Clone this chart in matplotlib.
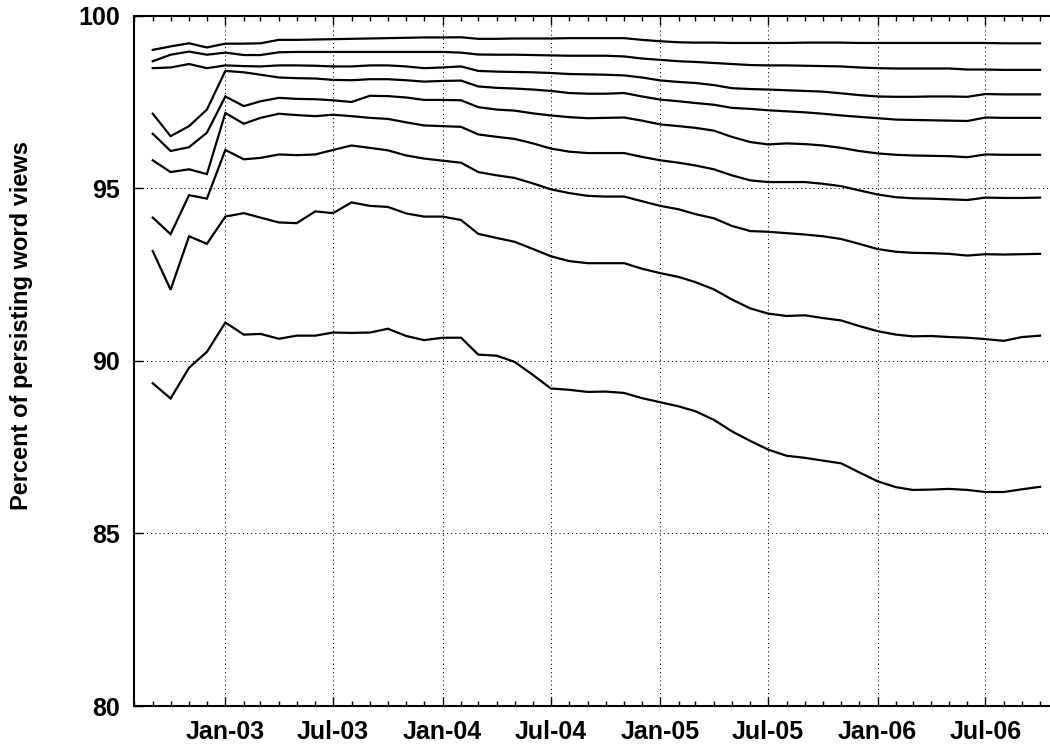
import matplotlib
matplotlib.use("Agg")
import matplotlib.pyplot as plt
import matplotlib.dates as mdates
import pandas as pd
import numpy as np

months = pd.date_range("2002-09-01", periods=50, freq="MS")

line_a = [99.01, 99.11, 99.20, 99.08, 99.19, 99.19, 99.20, 99.30, 99.30, 99.31,
          99.32, 99.33, 99.34, 99.35, 99.36, 99.37, 99.37, 99.375, 99.33, 99.33,
          99.34, 99.34, 99.34, 99.35, 99.35, 99.35, 99.35, 99.30, 99.26, 99.23,
          99.22, 99.22, 99.21, 99.21, 99.21, 99.21, 99.22, 99.22, 99.22, 99.21,
          99.21, 99.21, 99.21, 99.21, 99.21, 99.21, 99.21, 99.20, 99.20, 99.20]
line_b = [98.68, 98.87, 98.96, 98.87, 98.93, 98.86, 98.86, 98.94, 98.95, 98.95,
          98.95, 98.95, 98.95, 98.95, 98.95, 98.95, 98.95, 98.93, 98.875, 98.87,
          98.87, 98.86, 98.85, 98.84, 98.84, 98.84, 98.82, 98.76, 98.72, 98.68,
          98.66, 98.63, 98.60, 98.57, 98.56, 98.56, 98.55, 98.54, 98.53, 98.50,
          98.48, 98.47, 98.47, 98.47, 98.47, 98.44, 98.44, 98.43, 98.43, 98.43]
line_c = [98.48, 98.50, 98.60, 98.48, 98.56, 98.54, 98.53, 98.56, 98.56, 98.55,
          98.53, 98.53, 98.56, 98.56, 98.53, 98.48, 98.50, 98.53, 98.40, 98.38,
          98.37, 98.36, 98.34, 98.31, 98.30, 98.29, 98.27, 98.21, 98.125, 98.08,
          98.05, 97.99, 97.90, 97.875, 97.86, 97.84, 97.82, 97.80, 97.75, 97.70,
          97.66, 97.65, 97.65, 97.66, 97.66, 97.65, 97.73, 97.72, 97.72, 97.72]
line_d = [97.16, 96.51, 96.80, 97.28, 98.40, 98.36, 98.29, 98.21, 98.19, 98.18,
          98.14, 98.13, 98.16, 98.16, 98.13, 98.09, 98.11, 98.12, 97.95, 97.91,
          97.89, 97.86, 97.82, 97.76, 97.74, 97.74, 97.76, 97.66, 97.57, 97.52,
          97.47, 97.42, 97.33, 97.30, 97.26, 97.23, 97.20, 97.16, 97.11, 97.07,
          97.03, 96.99, 96.98, 96.97, 96.96, 96.95, 97.05, 97.04, 97.04, 97.04]
line_e = [96.58, 96.08, 96.19, 96.61, 97.66, 97.38, 97.52, 97.62, 97.59, 97.58,
          97.55, 97.50, 97.68, 97.67, 97.63, 97.56, 97.56, 97.55, 97.35, 97.28,
          97.25, 97.17, 97.11, 97.06, 97.03, 97.04, 97.05, 96.96, 96.85, 96.80,
          96.75, 96.67, 96.49, 96.34, 96.27, 96.30, 96.28, 96.24, 96.17, 96.08,
          96.01, 95.97, 95.95, 95.94, 95.93, 95.90, 95.98, 95.97, 95.97, 95.97]
line_f = [95.81, 95.47, 95.55, 95.41, 97.18, 96.87, 97.04, 97.16, 97.12, 97.09,
          97.13, 97.09, 97.04, 97.01, 96.91, 96.82, 96.80, 96.78, 96.56, 96.49,
          96.43, 96.30, 96.15, 96.06, 96.02, 96.02, 96.02, 95.91, 95.81, 95.74,
          95.66, 95.55, 95.375, 95.23, 95.18, 95.18, 95.18, 95.13, 95.06, 94.94,
          94.82, 94.74, 94.71, 94.70, 94.68, 94.66, 94.73, 94.72, 94.72, 94.73]
line_g = [94.15, 93.67, 94.80, 94.70, 96.11, 95.84, 95.88, 95.98, 95.96, 95.98,
          96.11, 96.24, 96.17, 96.10, 95.95, 95.86, 95.80, 95.74, 95.47, 95.375,
          95.30, 95.14, 94.97, 94.86, 94.78, 94.76, 94.76, 94.625, 94.49, 94.39,
          94.25, 94.13, 93.91, 93.76, 93.74, 93.70, 93.66, 93.61, 93.53, 93.39,
          93.24, 93.16, 93.13, 93.12, 93.10, 93.05, 93.09, 93.08, 93.09, 93.10]
line_h = [93.18, 92.06, 93.61, 93.39, 94.18, 94.28, 94.15, 94.01, 93.99, 94.33,
          94.28, 94.59, 94.49, 94.46, 94.27, 94.18, 94.18, 94.08, 93.68, 93.56,
          93.45, 93.24, 93.03, 92.89, 92.83, 92.83, 92.83, 92.67, 92.54, 92.43,
          92.28, 92.07, 91.78, 91.52, 91.37, 91.30, 91.32, 91.24, 91.17, 91.01,
          90.86, 90.76, 90.71, 90.72, 90.69, 90.67, 90.63, 90.58, 90.69, 90.73]
line_i = [89.35, 88.91, 89.80, 90.26, 91.11, 90.76, 90.78, 90.64, 90.73, 90.73,
          90.82, 90.81, 90.82, 90.93, 90.72, 90.60, 90.67, 90.67, 90.18, 90.15,
          89.97, 89.59, 89.20, 89.16, 89.10, 89.11, 89.07, 88.92, 88.80, 88.68,
          88.54, 88.29, 87.96, 87.68, 87.43, 87.25, 87.19, 87.11, 87.03, 86.77,
          86.51, 86.34, 86.26, 86.27, 86.29, 86.26, 86.20, 86.20, 86.28, 86.35]

series = [line_a, line_b, line_c, line_d, line_e, line_f, line_g, line_h, line_i]
y_ticks = [80, 85, 90, 95, 100]
y_label = "Percent of persisting word views"

plt.rcParams['font.family'] = ['Liberation Sans', 'DejaVu Sans']
plt.rcParams['font.weight'] = 'bold'

fig = plt.figure(figsize=(10.5, 7.48), dpi=100)
W, H = 1050.0, 748.0
left, right, top, bottom = 134.3, 1058.5, 15.7, 706.0
ax = fig.add_axes([left / W, (H - bottom) / H, (right - left) / W, (bottom - top) / H])

for s in series:
    ax.plot(months, s, color='black', lw=1.6, solid_joinstyle='miter')

ax.set_xlim(pd.Timestamp("2002-08-01"), pd.Timestamp("2006-11-01"))
ax.set_ylim(80, 100)
ax.set_yticks(y_ticks)
ax.xaxis.set_major_locator(mdates.MonthLocator(bymonth=[1, 7]))
ax.xaxis.set_major_formatter(mdates.DateFormatter('%b-%y'))
ax.xaxis.set_minor_locator(mdates.MonthLocator())

ax.grid(True, which='major', linestyle=(0, (1, 3)), color='black', lw=0.75)
for sp in ax.spines.values():
    sp.set_linewidth(1.5)

ax.tick_params(axis='x', which='major', direction='in', top=True, length=6.5, width=1.0,
               labelsize=18, pad=10)
ax.tick_params(axis='x', which='minor', direction='in', top=True, length=3.6, width=1.0)
ax.tick_params(axis='y', which='major', direction='in', right=True, length=6.5, width=1.0,
               labelsize=18, pad=10.5)
for lab in ax.get_xticklabels() + ax.get_yticklabels():
    lab.set_fontweight('bold')

ax.set_ylabel(y_label, fontsize=17, fontweight='bold')
ax.yaxis.set_label_coords((33 - left) / (right - left), (bottom - 326) / (bottom - top))

fig.savefig("out.png", dpi=100)
